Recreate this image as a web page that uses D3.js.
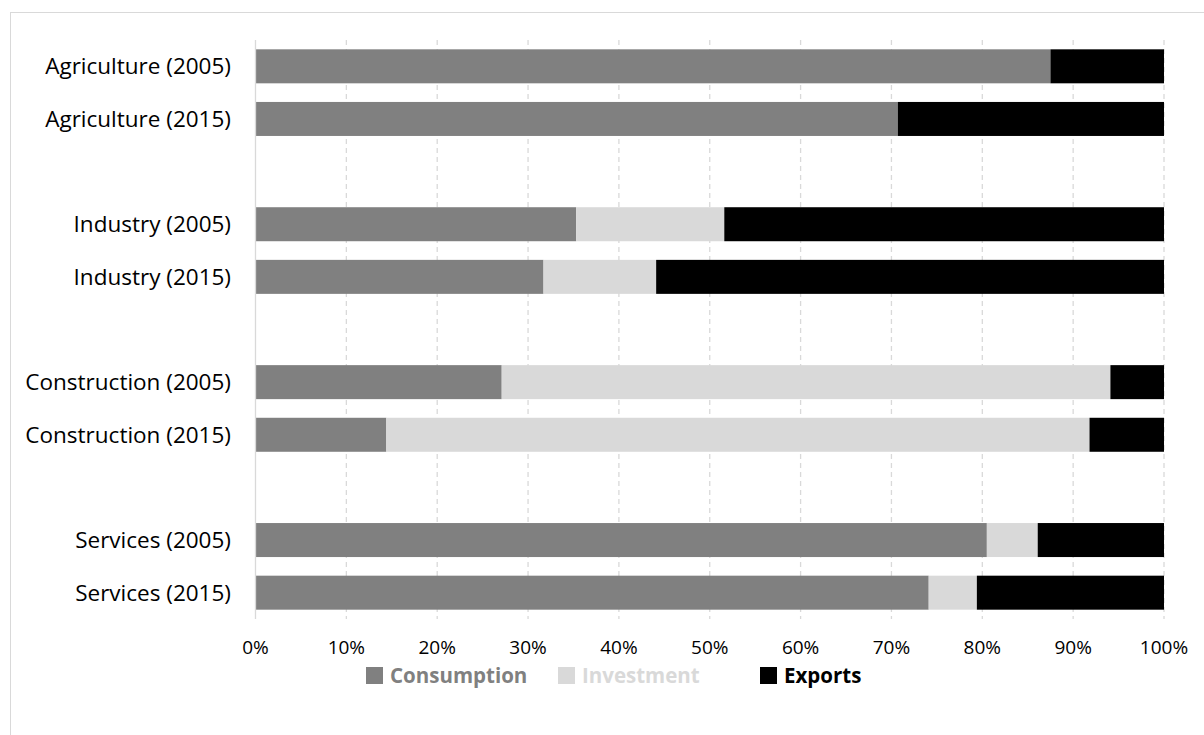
<!DOCTYPE html>
<html>
<head>
<meta charset="utf-8">
<script src="https://cdn.jsdelivr.net/npm/d3@7"></script>
<style>
  html, body { margin: 0; padding: 0; background: #fff; }
  svg { display: block; font-family: "Open Sans", "Noto Sans", sans-serif; }
</style>
</head>
<body>
<svg id="chart" width="1204" height="735"></svg>
<script>
// Rows, top to bottom; blank entries are spacer rows between sectors
const categories = [
  "Agriculture (2005)", "Agriculture (2015)", "",
  "Industry (2005)", "Industry (2015)", " ",
  "Construction (2005)", "Construction (2015)", "  ",
  "Services (2005)", "Services (2015)"
];
const barCategories = [
  "Agriculture (2005)", "Agriculture (2015)",
  "Industry (2005)", "Industry (2015)",
  "Construction (2005)", "Construction (2015)",
  "Services (2005)", "Services (2015)"
];
const seriesNames = ["Consumption", "Investment", "Exports"];
const consumption = [87.5, 70.7, 35.3, 31.7, 27.1, 14.4, 80.5, 74.1];
const investment  = [0.0, 0.0, 16.3, 12.4, 67.0, 77.4, 5.6, 5.3];
const exportsShare = [12.5, 29.3, 48.4, 55.9, 5.9, 8.2, 13.9, 20.6];
const tickValues = [0, 10, 20, 30, 40, 50, 60, 70, 80, 90, 100];
const colors = ["#808080", "#d9d9d9", "#000000"];

const svg = d3.select("#chart");

// Chart frame
svg.append("rect")
  .attr("x", 10.5).attr("y", 12.5)
  .attr("width", 1300).attr("height", 900)
  .attr("fill", "none").attr("stroke", "#d9d9d9");

const x = d3.scaleLinear().domain([0, 100]).range([255.5, 1164]);
const y = d3.scaleBand().domain(categories).range([40, 619]).paddingInner(0.354).paddingOuter(0.177);

// Vertical gridlines
svg.append("g")
  .selectAll("line")
  .data(tickValues.filter(d => d > 0))
  .join("line")
  .attr("x1", d => x(d)).attr("x2", d => x(d))
  .attr("y1", 40).attr("y2", 619)
  .attr("stroke", "#d9d9d9").attr("stroke-width", 1.3)
  .attr("stroke-dasharray", "5,4");

// Stacked shares per row
const rows = barCategories.map((c, i) => ({
  category: c,
  Consumption: consumption[i],
  Investment: investment[i],
  Exports: exportsShare[i]
}));
const stacked = d3.stack().keys(seriesNames)(rows);

svg.append("g")
  .selectAll("g")
  .data(stacked)
  .join("g")
  .attr("fill", (d, i) => colors[i])
  .selectAll("rect")
  .data(d => d.filter(s => s[1] - s[0] > 0))
  .join("rect")
  .attr("x", d => x(d[0]))
  .attr("width", d => x(d[1]) - x(d[0]))
  .attr("y", d => y(d.data.category))
  .attr("height", y.bandwidth());

// Category axis line at 0%
svg.append("line")
  .attr("x1", x(0)).attr("x2", x(0))
  .attr("y1", 40).attr("y2", 619)
  .attr("stroke", "#d9d9d9").attr("stroke-width", 1.3);

// Category labels
svg.append("g")
  .selectAll("text")
  .data(barCategories)
  .join("text")
  .attr("x", 231)
  .attr("y", d => y(d) + y.bandwidth() / 2)
  .attr("dy", "0.36em")
  .attr("text-anchor", "end")
  .attr("font-size", 22.5)
  .attr("fill", "#000")
  .text(d => d);

// Percentage tick labels
svg.append("g")
  .selectAll("text")
  .data(tickValues)
  .join("text")
  .attr("x", d => x(d))
  .attr("y", 654)
  .attr("text-anchor", "middle")
  .attr("font-size", 19)
  .attr("fill", "#000")
  .text(d => d + "%");

// Legend
const legendX = [366, 558, 760];
const legend = svg.append("g")
  .selectAll("g")
  .data(seriesNames)
  .join("g")
  .attr("transform", (d, i) => `translate(${legendX[i]},0)`);
legend.append("rect")
  .attr("x", 0).attr("y", 667)
  .attr("width", 17).attr("height", 17)
  .attr("fill", (d, i) => colors[i]);
legend.append("text")
  .attr("x", 24).attr("y", 683)
  .attr("font-size", 20.5)
  .attr("font-weight", "bold")
  .attr("fill", (d, i) => colors[i])
  .text(d => d);
</script>
</body>
</html>
